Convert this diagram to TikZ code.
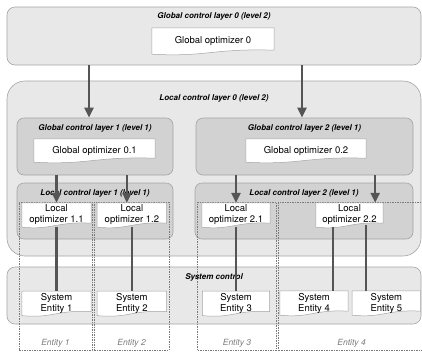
\documentclass[tikz,border=0pt]{standalone}
\usepackage{fontspec}
\setmainfont{TeX Gyre Heros}
\usetikzlibrary{positioning,calc}
\usetikzlibrary{arrows.meta}
\pgfdeclarelayer{bg}
\pgfdeclarelayer{mid}
\pgfsetlayers{bg,mid,main}

\definecolor{layerlight}{HTML}{E8E8E8}
\definecolor{layerdark}{HTML}{D2D2D2}
\definecolor{layerline}{HTML}{A4A4A4}
\definecolor{linkgray}{HTML}{555555}
\definecolor{entgray}{HTML}{7A7A7A}

\tikzset{
  outerlayer/.style={draw=layerline, fill=layerlight, rounded corners=8pt, line width=0.6pt, inner sep=0pt},
  innerlayer/.style={draw=layerline, fill=layerdark, rounded corners=7pt, line width=0.6pt, inner sep=0pt},
  layertitle/.style={font=\fontsize{8}{9.5}\selectfont\bfseries\itshape, inner sep=0pt},
  optbox/.style={font=\fontsize{9.5}{11}\selectfont, align=center, inner sep=0pt},
  docline/.style={draw=layerline, fill=white, line width=0.5pt},
  entcol/.style={draw=entgray, dash pattern=on 1.5pt off 1pt, line width=0.6pt, inner sep=0pt},
  entlabel/.style={font=\fontsize{8.5}{10}\selectfont\itshape, text=entgray, inner sep=0pt},
  control/.style={draw=linkgray, line width=2.3pt, -{Triangle[length=10pt,width=9pt]}},
  link/.style={draw=linkgray, line width=2.3pt},
}

\newcommand{\docframe}[1]{%
  \path[docline] (#1.north west) -- (#1.north east) -- ([yshift=4pt]#1.south east)
    .. controls ($(#1.south west)!0.5!(#1.south east)+(0pt,6pt)$)
    and ($(#1.south west)!0.45!(#1.south east)+(0pt,-3pt)$) .. (#1.south west) -- cycle;}

\begin{document}
\begin{tikzpicture}[x=1pt, y=-1pt]
   \useasboundingbox (0,0) rectangle (422,354);

   \begin{pgfonlayer}{bg}
      \node[outerlayer, minimum width=414pt, minimum height=58pt] (gcl0) at (214,36) {};
      \node[outerlayer, rounded corners=18pt, minimum width=414pt, minimum height=175pt] (lcl0) at (214,168.5) {};
      \node[innerlayer, minimum width=156pt, minimum height=57pt] (gcl1) at (95,146.5) {};
      \node[innerlayer, minimum width=217pt, minimum height=57pt] (gcl2) at (304.5,146.5) {};
      \node[innerlayer, minimum width=156pt, minimum height=56pt] (lcl1) at (95,211) {};
      \node[innerlayer, minimum width=218pt, minimum height=56pt] (lcl2) at (304,211) {};
      \node[outerlayer, minimum width=414pt, minimum height=57pt] (sysc) at (214,295.5) {};

      \node[entcol, minimum width=73pt, minimum height=148pt] (ec1) at (55.5,276) {};
      \node[entcol, minimum width=75pt, minimum height=148pt, right=1.5pt of ec1] (ec2) {};
      \node[entcol, minimum width=79pt, minimum height=148pt] (ec3) at (237,276) {};
      \node[entcol, minimum width=146pt, minimum height=148pt, right=1.5pt of ec3] (ec4) {};
   \end{pgfonlayer}

   \node[layertitle, below=6pt of gcl0.north] (tgcl0) {Global control layer 0 (level 2)};
   \node[layertitle, below=14pt of lcl0.north] (tlcl0) {Local control layer 0 (level 2)};
   \node[layertitle, below=7pt of gcl1.north] (tgcl1) {Global control layer 1 (level 1)};
   \node[layertitle, below=7pt of gcl2.north] (tgcl2) {Global control layer 2 (level 1)};
   \node[layertitle, below=7.25pt of lcl1.north] (tlcl1) {Local control layer 1 (level 1)};
   \node[layertitle, below=7.25pt of lcl2.north] (tlcl2) {Local control layer 2 (level 1)};
   \node[layertitle, below=7pt of sysc.north] (tsysc) {System control};

   \node[optbox, minimum width=122pt, minimum height=26pt] (go0) at (213,41) {Global optimizer 0};
   \node[optbox, minimum width=121pt, minimum height=23pt] (go1) at (94.5,150.5) {Global optimizer 0.1};
   \node[optbox, minimum width=120pt, minimum height=23pt] (go2) at (306,150.5) {Global optimizer 0.2};

   \node[optbox, minimum width=69pt, minimum height=24pt] (lo11) at (56.5,215) {Local\\optimizer 1.1};
   \node[optbox, minimum width=69pt, minimum height=24pt, right=6pt of lo11] (lo12) {Local\\optimizer 1.2};
   \node[optbox, minimum width=68pt, minimum height=24pt] (lo21) at (236,215) {Local\\optimizer 2.1};
   \node[optbox, minimum width=67pt, minimum height=24pt] (lo22) at (349.5,215) {Local\\optimizer 2.2};

   \node[optbox, minimum width=69pt, minimum height=24pt, below=64pt of lo11] (se1) {System\\Entity 1};
   \node[optbox, minimum width=69pt, minimum height=24pt, below=64pt of lo12] (se2) {System\\Entity 2};
   \node[optbox, minimum width=67pt, minimum height=24pt, below=64pt of lo21] (se3) {System\\Entity 3};
   \node[optbox, minimum width=68pt, minimum height=24pt] (se4) at (314,303) {System\\Entity 4};
   \node[optbox, minimum width=68pt, minimum height=24pt, right=4pt of se4] (se5) {System\\Entity 5};

   \node[entlabel, above=3pt of ec1.south] (el1) {Entity 1};
   \node[entlabel, above=3pt of ec2.south] (el2) {Entity 2};
   \node[entlabel, above=3pt of ec3.south] (el3) {Entity 3};
   \node[entlabel, above=3pt of ec4.south] (el4) {Entity 4};

   \begin{pgfonlayer}{mid}
      \foreach \n in {go0,go1,go2,lo11,lo12,lo21,lo22,se1,se2,se3,se4,se5} {\docframe{\n}}
   \end{pgfonlayer}

   \draw[control] ([xshift=-6pt]gcl1.north |- gcl0.south) -- ([xshift=-6pt]gcl1.north);
   \draw[control] ([xshift=-2.5pt]gcl2.north |- gcl0.south) -- ([xshift=-2.5pt]gcl2.north);

   \draw[control] (gcl1.south -| lo11.north) -- (lo11.north);
   \draw[control] ([xshift=-5pt]lo12.north |- gcl1.south) -- ([xshift=-5pt]lo12.north);
   \draw[control] (gcl2.south -| lo21.north) -- (lo21.north);
   \draw[control] ([xshift=-8pt]lo22.north east |- gcl2.south) -- ([xshift=-8pt]lo22.north east);

   \draw[link] (lo11.south) -- (se1.north);
   \draw[link] (lo12.south) -- (se2.north);
   \draw[link] (lo21.south) -- (se3.north);
   \draw[link] ([xshift=-16.5pt]lo22.south) -- ([xshift=-16.5pt]lo22.south |- se4.north);
   \draw[link] ([xshift=16.5pt,yshift=2pt]lo22.south) -- ([xshift=16.5pt]lo22.south |- se5.north);
\end{tikzpicture}
\end{document}
